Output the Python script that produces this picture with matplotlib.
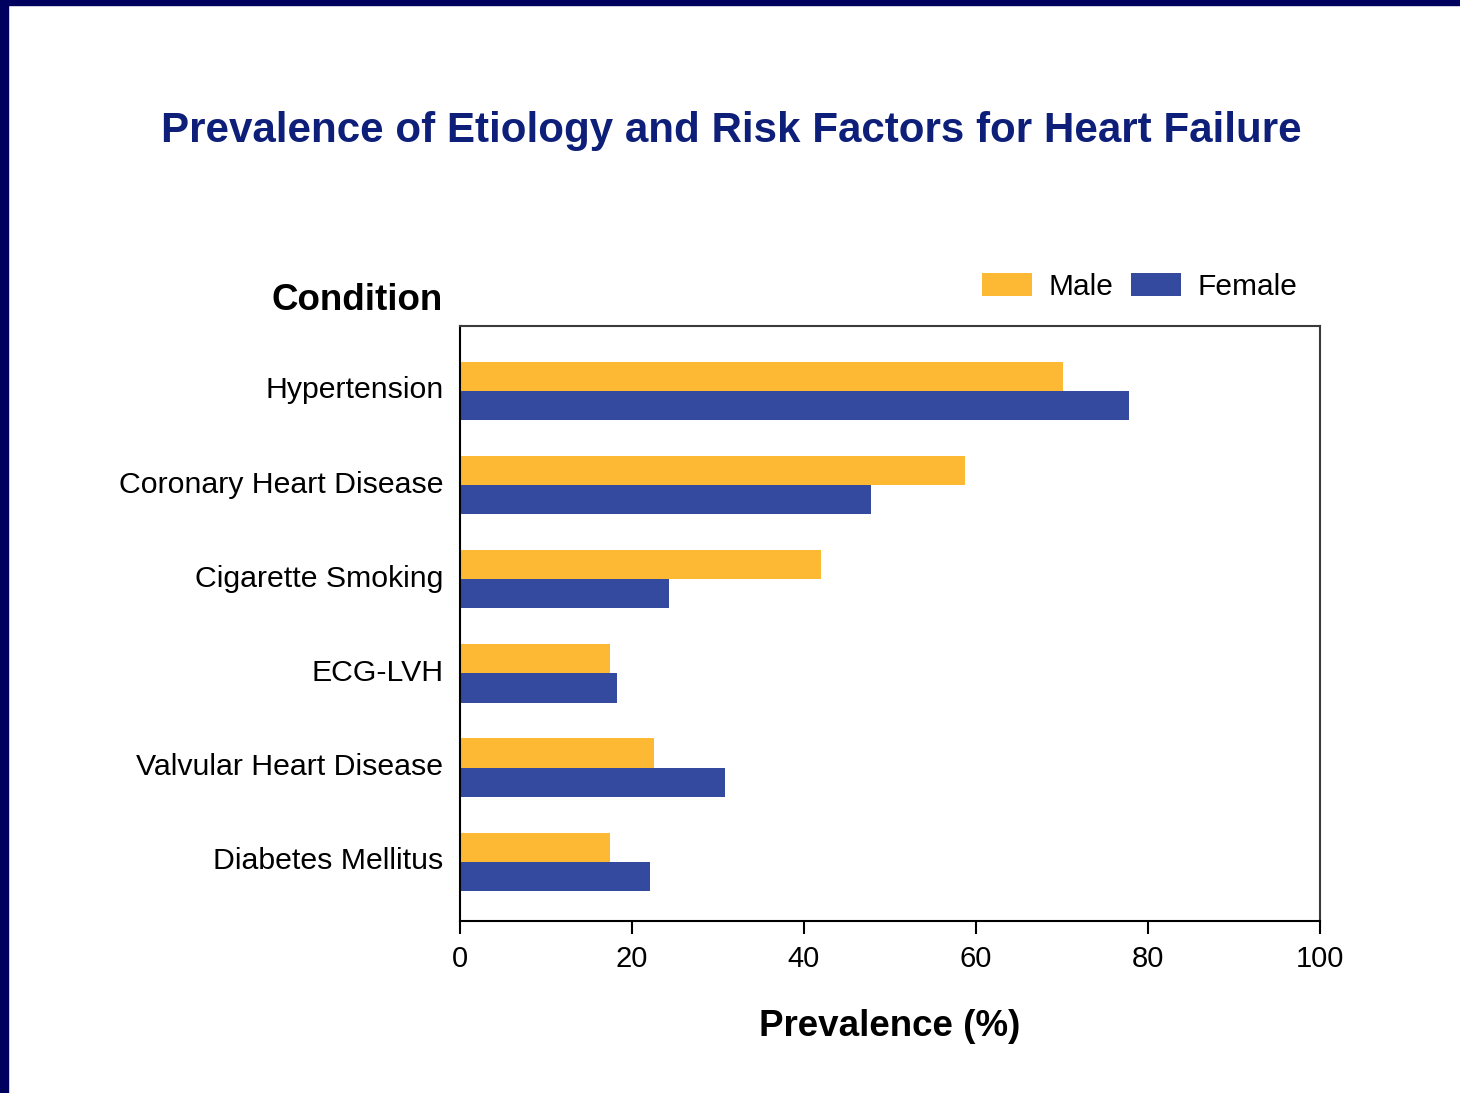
import matplotlib
matplotlib.use("Agg")
import matplotlib.pyplot as plt
import matplotlib.transforms as mtransforms
from matplotlib.patches import Rectangle
import numpy as np

plt.rcParams['font.family'] = ['Liberation Sans', 'DejaVu Sans']

# Daten (Prävalenz in %)
conditions = ["Hypertension", "Coronary Heart Disease", "Cigarette Smoking",
              "ECG-LVH", "Valvular Heart Disease", "Diabetes Mellitus"]
male = [70.1, 58.8, 42.0, 17.4, 22.6, 17.4]
female = [77.8, 47.8, 24.3, 18.3, 30.8, 22.1]
x_ticks = [0, 20, 40, 60, 80, 100]

col_male = "#FDB933"
col_female = "#344A9F"
navy = "#00005F"

W, H = 1460, 1093
fig = plt.figure(figsize=(W / 100, H / 100), dpi=100)
fig.patch.set_facecolor("white")

# Rahmen links und oben
fig.patches.append(Rectangle((0, 0), 8 / W, 1, transform=fig.transFigure,
                             color=navy, zorder=0))
fig.patches.append(Rectangle((0, 1 - 4.5 / H), 1, 4.5 / H, transform=fig.transFigure,
                             color=navy, zorder=0))

ax = fig.add_axes([460 / W, 1 - 921 / H, (1319.5 - 460) / W, (921 - 326) / H])

pos = np.arange(len(conditions))
h = 0.31
ax.barh(pos - h / 2, male, height=h, color=col_male, label="Male")
ax.barh(pos + h / 2, female, height=h, color=col_female, label="Female")

ax.set_xlim(0, 100)
ax.set_ylim(5.63, -0.69)
ax.set_xticks(x_ticks)
ax.set_xticklabels([str(t) for t in x_ticks], fontsize=21)
ax.set_yticks(pos)
ax.set_yticklabels(conditions, fontsize=21.8)
ax.tick_params(axis="y", length=0, pad=12)
ax.tick_params(axis="x", length=9, width=1.5, pad=8, direction="out")

# Kategorienamen etwas nach oben schieben
shift = mtransforms.ScaledTranslation(0, 3.5 / 100, fig.dpi_scale_trans)
for lab in ax.get_yticklabels():
    lab.set_transform(lab.get_transform() + shift)

for s in ["left", "bottom"]:
    ax.spines[s].set_linewidth(1.5)
    ax.spines[s].set_color("black")
for s in ["top", "right"]:
    ax.spines[s].set_linewidth(1.5)
    ax.spines[s].set_color("#3a3a3a")

ax.set_xlabel("Prevalence (%)", fontsize=26.5, fontweight="bold", labelpad=26)

fig.text(443 / W, 1 - 301 / H, "Condition", fontsize=26.5, fontweight="bold",
         ha="right", va="center")
fig.text(731 / W, 1 - 131 / H, "Prevalence of Etiology and Risk Factors for Heart Failure",
         fontsize=30.3, fontweight="bold", color="#0D1F78", ha="center", va="center")

ax.legend(loc="center right", bbox_to_anchor=(1297 / W, 1 - 287 / H),
          bbox_transform=fig.transFigure, ncol=2, frameon=False, fontsize=21.5,
          handlelength=1.67, handleheight=0.77, handletextpad=0.55,
          columnspacing=0.6, borderpad=0, borderaxespad=0)

fig.savefig("out.png", dpi=100)
